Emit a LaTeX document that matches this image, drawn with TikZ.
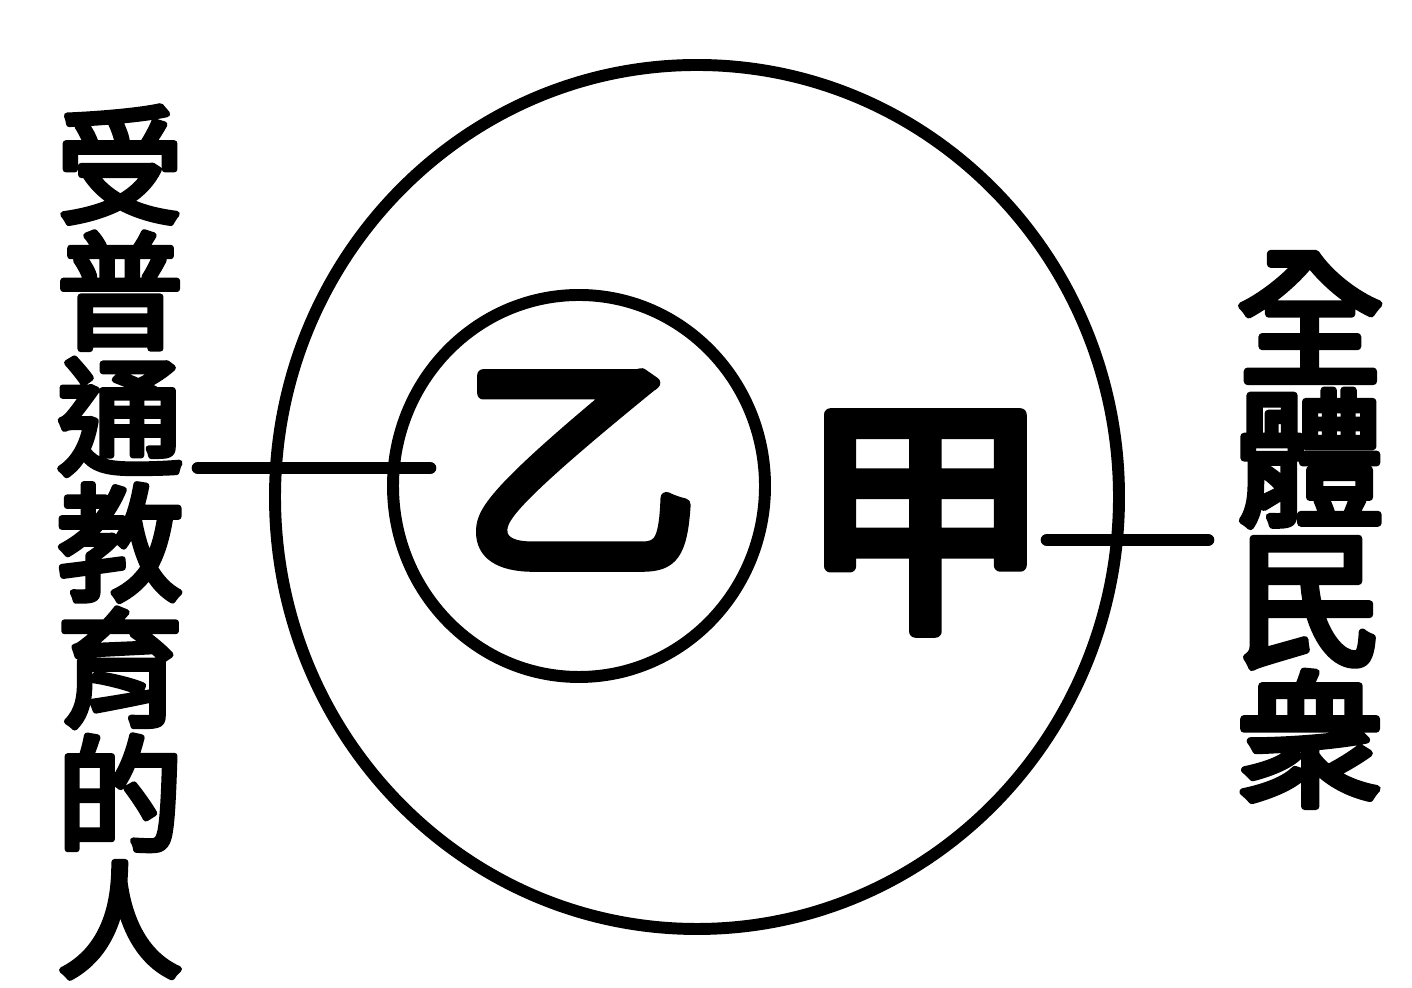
\documentclass[tikz,border=0pt]{standalone}
\usepackage{fontspec}
\newfontfamily\cjk{Noto Sans CJK TC}[FakeBold=5]
\begin{document}
\begin{tikzpicture}[line join=round, line cap=round, >=stealth]
	\useasboundingbox (0,0) rectangle (14.12,9.88);
	% 1. Two circles and the two ticks
	\coordinate (O) at (6.97, 4.91);
	\coordinate (K) at (5.79, 5.02);
	\coordinate (A) at (1.98, 5.20);
	\coordinate (B) at (4.30, 5.20);
	\coordinate (C) at (10.47, 4.48);
	\coordinate (D) at (12.08, 4.48);
	\draw[line width=3.4pt] (O) ellipse (4.22 and 4.32);
	\draw[line width=3.4pt] (K) ellipse (1.86 and 1.91);
	\draw[line width=3.6pt] (A) -- (B);
	\draw[line width=3.6pt] (C) -- (D);
	% 2. Labels
	\foreach \n/\p/\s/\t in {yi/{5.80,5.18}/68/乙, jia/{9.25,4.65}/72/甲} {
		\node[font=\cjk\fontsize{\s}{\s}\selectfont, inner sep=0pt] (\n) at (\p) {\t};
	}
	\node[font=\cjk\fontsize{36}{35.8}\selectfont, align=center, inner sep=0pt] (left) at (1.20, 4.46) {受\\普\\通\\教\\育\\的\\人};
	\node[font=\cjk\fontsize{42}{40}\selectfont, align=center, inner sep=0pt] (right) at (13.10, 4.58) {全\\體\\民\\衆};
\end{tikzpicture}
\end{document}
